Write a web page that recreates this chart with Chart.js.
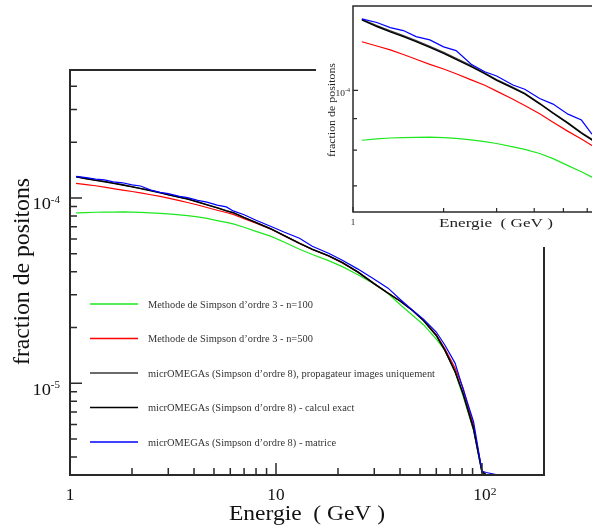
<!DOCTYPE html>
<html><head><meta charset="utf-8">
<script src="https://cdn.jsdelivr.net/npm/chart.js@4.4.0/dist/chart.umd.min.js"></script>
<style>
html,body{margin:0;padding:0;background:#fff;overflow:hidden;width:592px;height:529px;}
#main{position:absolute;left:0;top:0;width:592px;height:529px;}
#inset{position:absolute;left:316px;top:0;width:380px;height:247px;background:#fff;}
</style></head><body>
<canvas id="main" width="592" height="529"></canvas>
<canvas id="inset" width="380" height="247"></canvas>
<script>
// ---------- data ----------
const energies = [1.07, 1.2, 1.33, 1.47, 1.62, 1.8, 2.0, 2.2, 2.47, 2.74,
  3.0, 3.4, 3.72, 4.17, 4.62, 5.18, 5.74, 6.2, 7, 8,
  9.4, 11, 13, 15, 18, 21, 25, 30, 35, 40,
  46, 52, 60, 66, 74, 81, 91, 100, 105, 120, 150, 200];

const simpson3N100 = [8.30e-5, 8.34e-5, 8.37e-5, 8.38e-5, 8.39e-5, 8.40e-5, 8.38e-5, 8.36e-5, 8.31e-5, 8.26e-5,
  8.20e-5, 8.10e-5, 8.02e-5, 7.90e-5, 7.75e-5, 7.55e-5, 7.38e-5, 7.24e-5, 6.95e-5, 6.60e-5,
  6.22e-5, 5.77e-5, 5.29e-5, 4.95e-5, 4.59e-5, 4.26e-5, 3.85e-5, 3.43e-5, 3.05e-5, 2.66e-5,
  2.33e-5, 2.07e-5, 1.73e-5, 1.51e-5, 1.15e-5, 8.5e-6, 5.6e-6, 3.3e-6, 3.2e-6, 3.2e-6, 3.2e-6, 3.2e-6];

const simpson3N500 = [1.199e-4, 1.180e-4, 1.163e-4, 1.143e-4, 1.123e-4, 1.102e-4, 1.083e-4, 1.064e-4, 1.040e-4, 1.019e-4,
  9.97e-5, 9.67e-5, 9.45e-5, 9.16e-5, 8.88e-5, 8.58e-5, 8.34e-5, 8.15e-5, 7.72e-5, 7.30e-5,
  6.80e-5, 6.24e-5, 5.68e-5, 5.27e-5, 4.86e-5, 4.46e-5, 3.97e-5, 3.44e-5, 3.07e-5, 2.79e-5,
  2.48e-5, 2.19e-5, 1.83e-5, 1.54e-5, 1.21e-5, 9.4e-6, 5.9e-6, 3.35e-6, 3.2e-6, 3.2e-6, 3.2e-6, 3.2e-6];

const micromegasImages = [1.304e-4, 1.273e-4, 1.249e-4, 1.227e-4, 1.204e-4, 1.178e-4, 1.152e-4, 1.127e-4, 1.097e-4, 1.067e-4,
  1.041e-4, 1.011e-4, 9.89e-5, 9.53e-5, 9.20e-5, 8.86e-5, 8.54e-5, 8.34e-5, 7.85e-5, 7.38e-5,
  6.84e-5, 6.27e-5, 5.71e-5, 5.30e-5, 4.88e-5, 4.49e-5, 3.99e-5, 3.45e-5, 3.07e-5, 2.78e-5,
  2.47e-5, 2.18e-5, 1.81e-5, 1.51e-5, 1.15e-5, 8.7e-6, 5.6e-6, 3.3e-6, 3.2e-6, 3.2e-6, 3.2e-6, 3.2e-6];

const micromegasExact = [1.301e-4, 1.269e-4, 1.244e-4, 1.222e-4, 1.199e-4, 1.174e-4, 1.148e-4, 1.123e-4, 1.093e-4, 1.064e-4,
  1.038e-4, 1.008e-4, 9.87e-5, 9.51e-5, 9.18e-5, 8.84e-5, 8.52e-5, 8.32e-5, 7.83e-5, 7.36e-5,
  6.82e-5, 6.25e-5, 5.69e-5, 5.28e-5, 4.87e-5, 4.48e-5, 3.98e-5, 3.44e-5, 3.06e-5, 2.78e-5,
  2.47e-5, 2.18e-5, 1.81e-5, 1.51e-5, 1.16e-5, 8.8e-6, 5.7e-6, 3.35e-6, 3.2e-6, 3.2e-6, 3.2e-6, 3.2e-6];

const micromegasMatrix = [1.306e-4, 1.288e-4, 1.264e-4, 1.250e-4, 1.222e-4, 1.207e-4, 1.176e-4, 1.160e-4, 1.102e-4, 1.072e-4,
  1.055e-4, 1.020e-4, 1.004e-4, 9.70e-5, 9.50e-5, 9.15e-5, 8.95e-5, 8.51e-5, 8.12e-5, 7.58e-5,
  7.04e-5, 6.53e-5, 6.06e-5, 5.49e-5, 5.03e-5, 4.61e-5, 4.13e-5, 3.64e-5, 3.26e-5, 2.84e-5,
  2.48e-5, 2.22e-5, 1.89e-5, 1.61e-5, 1.285e-5, 9.3e-6, 6.2e-6, 3.35e-6, 3.3e-6, 3.2e-6, 3.2e-6, 3.2e-6];

const seriesLabels = [
  'Methode de Simpson d’ordre 3 - n=100',
  'Methode de Simpson d’ordre 3 - n=500',
  'micrOMEGAs (Simpson d’ordre 8), propagateur images uniquement',
  'micrOMEGAs (Simpson d’ordre 8) - calcul exact',
  'micrOMEGAs (Simpson d’ordre 8) - matrice'
];

// tick values and labels
const xMajorTicks = [1, 10, 100];
const xMajorLabels = [['1', ''], ['10', ''], ['10', '2']];
const xMinorTicks = [2, 3, 4, 5, 6, 7, 8, 9, 20, 30, 40, 50, 60, 70, 80, 90, 200];
const yMajorTicks = [1e-5, 1e-4];
const yMajorLabels = [['10', '-5'], ['10', '-4']];
const yMinorTicks = [4e-6, 5e-6, 6e-6, 7e-6, 8e-6, 9e-6, 2e-5, 3e-5, 4e-5, 5e-5, 6e-5, 7e-5, 8e-5, 9e-5, 2e-4, 3e-4, 4e-4];

const insetXMajorTicks = [1];
const insetXMajorLabels = [['1', '']];
const insetXMinorTicks = [2, 3, 4, 5, 6, 7, 8, 9];
const insetYMajorTicks = [1e-4];
const insetYMajorLabels = [['10', '-4']];
const insetYMinorTicks = [7e-5, 8e-5, 9e-5, 2e-4];

const xTitle = 'Energie  ( GeV )';
const yTitle = 'fraction de positons';

// ---------- styles ----------
const seriesStyle = [
  {color: '#1ee81e', width: 1.2, order: 4},
  {color: '#ff0000', width: 1.2, order: 3},
  {color: '#3a3a3a', width: 1.3, order: 2},
  {color: '#000000', width: 1.4, order: 1},
  {color: '#0000ff', width: 1.2, order: 0}
];
const seriesValues = [simpson3N100, simpson3N500, micromegasImages, micromegasExact, micromegasMatrix];

function makeDatasets() {
  return seriesValues.map((vals, k) => ({
    label: seriesLabels[k],
    data: energies.map((e, i) => ({x: e, y: vals[i]})),
    borderColor: seriesStyle[k].color,
    borderWidth: seriesStyle[k].width,
    pointRadius: 0,
    fill: false,
    tension: 0,
    order: seriesStyle[k].order
  }));
}

const SERIF = '"Liberation Serif", "Times New Roman", serif';

function txt(ctx, s, x, y, size, align, sx) {
  ctx.save();
  ctx.font = size + 'px ' + SERIF;
  ctx.textBaseline = 'alphabetic';
  ctx.textAlign = 'left';
  const w = ctx.measureText(s).width * sx;
  const x0 = align === 'center' ? x - w / 2 : (align === 'right' ? x - w : x);
  ctx.translate(x0, y);
  ctx.scale(sx, 1);
  ctx.fillText(s, 0, 0);
  ctx.restore();
  return w;
}
function measure(ctx, s, size, sx) {
  ctx.save(); ctx.font = size + 'px ' + SERIF;
  const w = ctx.measureText(s).width * sx; ctx.restore(); return w;
}
function fitTxt(ctx, s, cx, y, size, targetW) {
  ctx.save(); ctx.font = size + 'px ' + SERIF;
  const sx = targetW / ctx.measureText(s).width; ctx.restore();
  txt(ctx, s, cx, y, size, 'center', sx);
}

function drawFrame(ctx, a, lw, color) {
  ctx.save();
  ctx.strokeStyle = color; ctx.lineWidth = lw;
  ctx.strokeRect(a.left, a.top, a.right - a.left, a.bottom - a.top);
  ctx.restore();
}
function drawTicks(ctx, chart, xMaj, xMin, yMaj, yMin, lenMaj, lenMin, lw) {
  const a = chart.chartArea, xs = chart.scales.x, ys = chart.scales.y;
  ctx.save(); ctx.strokeStyle = '#2a2a2a'; ctx.lineWidth = lw;
  ctx.beginPath();
  xMaj.forEach(v => { const p = xs.getPixelForValue(v); if (p >= a.left - 1 && p <= a.right + 1) { ctx.moveTo(p, a.bottom); ctx.lineTo(p, a.bottom - lenMaj); } });
  xMin.forEach(v => { const p = xs.getPixelForValue(v); if (p >= a.left - 1 && p <= a.right + 1) { ctx.moveTo(p, a.bottom); ctx.lineTo(p, a.bottom - lenMin); } });
  yMaj.forEach(v => { const p = ys.getPixelForValue(v); if (p >= a.top - 1 && p <= a.bottom + 1) { ctx.moveTo(a.left, p); ctx.lineTo(a.left + lenMaj, p); } });
  yMin.forEach(v => { const p = ys.getPixelForValue(v); if (p >= a.top - 1 && p <= a.bottom + 1) { ctx.moveTo(a.left, p); ctx.lineTo(a.left + lenMin, p); } });
  ctx.stroke(); ctx.restore();
}

const mainDecor = {
  id: 'mainDecor',
  afterDatasetsDraw(chart) {
    const ctx = chart.ctx, a = chart.chartArea, xs = chart.scales.x, ys = chart.scales.y;
    drawFrame(ctx, a, 2, '#2a2a2a');
    drawTicks(ctx, chart, xMajorTicks, xMinorTicks, yMajorTicks, yMinorTicks, 12, 7, 1.5);
    ctx.fillStyle = '#111';
    // x tick labels
    xMajorTicks.forEach((v, i) => {
      const p = xs.getPixelForValue(v);
      const [b, s] = xMajorLabels[i];
      const wb = txt(ctx, b, p, a.bottom + 25, 16, 'center', 1.08);
      if (s) txt(ctx, s, p + wb / 2, a.bottom + 20, 11, 'left', 1.05);
    });
    // y tick labels
    yMajorTicks.forEach((v, i) => {
      const p = ys.getPixelForValue(v);
      const [b, s] = yMajorLabels[i];
      const ws = measure(ctx, s, 11, 1.0);
      const right = a.left - 10;
      txt(ctx, s, right, p + 5, 11, 'right', 1.0);
      txt(ctx, b, right - ws, p + 11.5, 17, 'right', 1.08);
    });
    // axis titles
    fitTxt(ctx, xTitle, 307, 520, 21, 156);
    ctx.save();
    ctx.translate(29, 271.5); ctx.rotate(-Math.PI / 2);
    fitTxt(ctx, yTitle, 0, 0, 23, 187);
    ctx.restore();
    // legend
    const rows = [304, 338.5, 373, 407.5, 442];
    const wLong = measure(ctx, seriesLabels[2], 10.5, 1);
    const lsx = 287 / wLong;
    seriesLabels.forEach((lab, k) => {
      const y = rows[k];
      ctx.save();
      ctx.strokeStyle = seriesStyle[k].color; ctx.lineWidth = 1.5;
      ctx.beginPath(); ctx.moveTo(90, y); ctx.lineTo(138, y); ctx.stroke();
      ctx.restore();
      ctx.fillStyle = '#333';
      txt(ctx, lab, 148, y + 3.5, 10.5, 'left', lsx);
    });
  }
};

const insetDecor = {
  id: 'insetDecor',
  afterDatasetsDraw(chart) {
    const ctx = chart.ctx, a = chart.chartArea, xs = chart.scales.x, ys = chart.scales.y;
    drawFrame(ctx, a, 1.5, '#2a2a2a');
    drawTicks(ctx, chart, insetXMajorTicks, insetXMinorTicks, insetYMajorTicks, insetYMinorTicks, 5, 4, 1.2);
    ctx.fillStyle = '#222';
    insetXMajorTicks.forEach((v, i) => {
      const p = xs.getPixelForValue(v);
      txt(ctx, insetXMajorLabels[i][0], p, a.bottom + 12.5, 9, 'center', 1.0);
    });
    insetYMajorTicks.forEach((v, i) => {
      const p = ys.getPixelForValue(v);
      const [b, s] = insetYMajorLabels[i];
      const ws = measure(ctx, s, 6, 1.0);
      const right = a.left - 3;
      txt(ctx, s, right, p + 1.5, 6, 'right', 1.0);
      txt(ctx, b, right - ws, p + 6, 9, 'right', 1.05);
    });
    fitTxt(ctx, xTitle, 180, 226.5, 13, 114);
    ctx.save();
    ctx.translate(19, 110); ctx.rotate(-Math.PI / 2);
    fitTxt(ctx, yTitle, 0, 0, 11, 94);
    ctx.restore();
  }
};

const baseOptions = (pad, xmin, xmax, ymin, ymax) => ({
  responsive: false,
  animation: false,
  events: [],
  layout: {padding: pad},
  plugins: {legend: {display: false}, tooltip: {enabled: false}},
  scales: {
    x: {type: 'logarithmic', min: xmin, max: xmax, display: false},
    y: {type: 'logarithmic', min: ymin, max: ymax, display: false}
  }
});

new Chart(document.getElementById('main'), {
  type: 'line',
  data: {datasets: makeDatasets()},
  options: baseOptions({left: 70, top: 70, right: 48, bottom: 54}, 1, 200, 3.2e-6, 4.9e-4),
  plugins: [mainDecor]
});

new Chart(document.getElementById('inset'), {
  type: 'line',
  data: {datasets: makeDatasets()},
  options: baseOptions({left: 37, top: 6, right: 42, bottom: 35}, 1, 10, 6.35e-5, 1.37e-4),
  plugins: [insetDecor]
});
</script>
</body></html>
